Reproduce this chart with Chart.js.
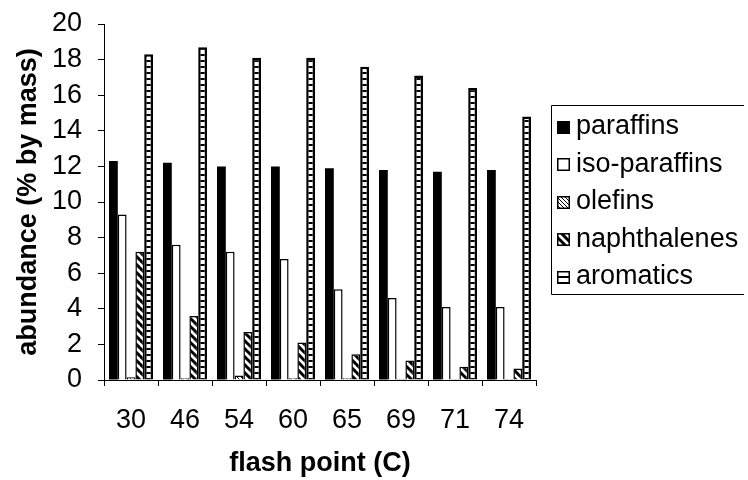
<!DOCTYPE html>
<html>
<head>
<meta charset="utf-8">
<script src="https://cdn.jsdelivr.net/npm/chart.js@4.4.1/dist/chart.umd.min.js"></script>
<style>
  html, body { margin: 0; padding: 0; background: #fff; }
  canvas { display: block; }
</style>
</head>
<body>
<canvas id="chart" width="748" height="480"></canvas>
<script>
// Flash point categories (°C) and hydrocarbon class abundances (% by mass)
const flashPoints   = ['30', '46', '54', '60', '65', '69', '71', '74'];
const paraffins     = [12.3, 12.2, 12.0, 12.0, 11.9, 11.8, 11.7, 11.8];
const isoParaffins  = [9.3, 7.6, 7.2, 6.8, 5.1, 4.6, 4.1, 4.1];
const olefins       = [0.15, 0.1, 0.25, 0.1, 0.1, 0.05, 0.05, 0.05];
const naphthalenes  = [7.2, 3.6, 2.7, 2.1, 1.45, 1.1, 0.75, 0.65];
const aromatics     = [18.3, 18.7, 18.1, 18.1, 17.6, 17.1, 16.4, 14.8];
const seriesNames   = ['paraffins', 'iso-paraffins', 'olefins', 'naphthalenes', 'aromatics'];
const yAxisMax = 20;
const yAxisStep = 2;

const canvas = document.getElementById('chart');
const ctx = canvas.getContext('2d');
const FONT = '"Liberation Sans", Arial, sans-serif';

// Monochrome fill patterns for the bars
function makePattern(w, h, draw) {
  const c = document.createElement('canvas');
  c.width = w; c.height = h;
  const g = c.getContext('2d');
  g.fillStyle = '#fff';
  g.fillRect(0, 0, w, h);
  g.strokeStyle = '#000';
  g.fillStyle = '#000';
  draw(g, w, h);
  return ctx.createPattern(c, 'repeat');
}

// fine back-slash hatch
const olefinFill = makePattern(4, 4, (g) => {
  g.lineWidth = 1;
  g.beginPath();
  g.moveTo(-1, -1); g.lineTo(5, 5);
  g.moveTo(-1, 3); g.lineTo(1, 5);
  g.moveTo(3, -1); g.lineTo(5, 1);
  g.stroke();
});

// wide back-slash stripes
const naphFill = makePattern(8, 8, (g) => {
  g.lineWidth = 3;
  g.beginPath();
  g.moveTo(-2, -2); g.lineTo(10, 10);
  g.moveTo(-2, 6); g.lineTo(2, 10);
  g.moveTo(6, -2); g.lineTo(10, 2);
  g.stroke();
});

// horizontal ladder rungs
const aromFill = makePattern(6, 6, (g) => {
  g.fillRect(0, 0, 6, 2);
});

const fills   = ['#000', '#fff', olefinFill, naphFill, aromFill];
const borders = [0, 1.5, 1.5, 1.5, 2.5];
const seriesData = [paraffins, isoParaffins, olefins, naphthalenes, aromatics];

// Framed legend drawn at the right of the plot
const framedLegend = {
  id: 'framedLegend',
  afterDraw(chart) {
    const g = chart.ctx;
    const left = 551.5, top = 105.5, right = 744, bottom = 294.5;
    g.save();
    g.strokeStyle = '#000';
    g.lineWidth = 1;
    g.beginPath();
    g.moveTo(right, top); g.lineTo(left, top); g.lineTo(left, bottom); g.lineTo(right, bottom);
    g.stroke();
    const y0 = 127, dy = 37.5, box = 13;
    g.font = '27px ' + FONT;
    g.textBaseline = 'middle';
    g.textAlign = 'left';
    chart.data.datasets.forEach((ds, i) => {
      const cy = y0 + dy * i;
      const bx = 557, by = Math.round(cy - box / 2);
      g.fillStyle = ds.backgroundColor;
      g.fillRect(bx, by, box, box);
      g.lineWidth = 1.5;
      g.strokeStyle = '#000';
      g.strokeRect(bx + 0.75, by + 0.75, box - 1.5, box - 1.5);
      g.fillStyle = '#000';
      g.fillText(ds.label, 576, cy);
    });
    g.restore();
  }
};

new Chart(ctx, {
  type: 'bar',
  data: {
    labels: flashPoints,
    datasets: seriesData.map((d, i) => ({
      label: seriesNames[i],
      data: d,
      backgroundColor: fills[i],
      borderColor: '#000',
      borderWidth: borders[i],
      borderSkipped: 'bottom',
      categoryPercentage: 0.815,
      barPercentage: 1.0
    }))
  },
  options: {
    responsive: false,
    animation: false,
    devicePixelRatio: 1,
    layout: { padding: { top: 24, right: 212, left: 0, bottom: 0 } },
    plugins: {
      legend: { display: false },
      tooltip: { enabled: false }
    },
    scales: {
      x: {
        afterFit(s) { s.height = 100; s.paddingLeft = 0; s.paddingRight = 0; },
        grid: { display: true, drawOnChartArea: false, drawTicks: true, tickLength: 6, color: '#000', offset: true },
        border: { display: true, color: '#000', width: 1 },
        ticks: { color: '#000', font: { family: FONT, size: 27 }, padding: 18, maxRotation: 0, autoSkip: false },
        title: {
          display: true, text: 'flash point (C)', color: '#000',
          font: { family: FONT, size: 27, weight: 'bold' },
          padding: { top: 0, bottom: 0 }
        }
      },
      y: {
        min: 0, max: yAxisMax,
        afterFit(s) { s.width = 104; s.paddingTop = 0; s.paddingBottom = 0; },
        grid: { display: true, drawOnChartArea: false, drawTicks: true, tickLength: 6, color: '#000' },
        border: { display: true, color: '#000', width: 1 },
        ticks: { stepSize: yAxisStep, color: '#000', font: { family: FONT, size: 27 }, padding: 16, autoSkip: false },
        title: {
          display: true, text: 'abundance (% by mass)', color: '#000',
          font: { family: FONT, size: 27, weight: 'bold' },
          padding: { top: 12, bottom: 0 }
        }
      }
    }
  },
  plugins: [framedLegend]
});
</script>
</body>
</html>
